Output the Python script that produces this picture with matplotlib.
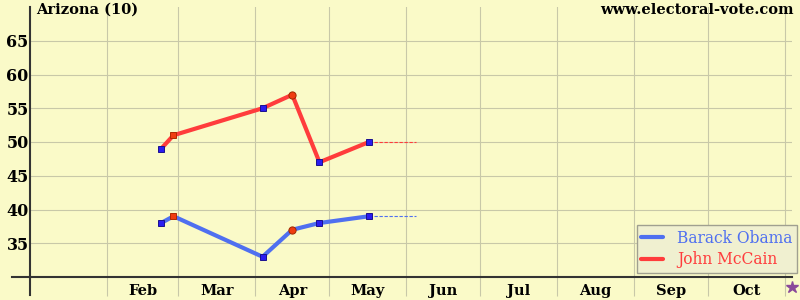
import matplotlib
matplotlib.use("Agg")
import matplotlib.pyplot as plt
import matplotlib.dates as mdates
import matplotlib.transforms as mtransforms
from datetime import datetime

# ---- data ----
poll_dates = ["2008-02-23", "2008-02-28", "2008-04-04", "2008-04-16", "2008-04-27", "2008-05-17"]
obama = [38, 39, 33, 37, 38, 39]
mccain = [49, 51, 55, 57, 47, 50]
# pollster type per poll: 'n' neutral (blue square), 'r' (red square), 'c' (red circle)
poll_kind = ["n", "r", "n", "c", "n", "n"]
projection_end = "2008-06-05"
election_day = "2008-11-04"
months = ["Feb", "Mar", "Apr", "May", "Jun", "Jul", "Aug", "Sep", "Oct"]
yticks = [35, 40, 45, 50, 55, 60, 65]
title_left = "Arizona (10)"
title_right = "www.electoral-vote.com"

# ---- styling ----
BG = "#fafac8"
GRID = "#c8c8a8"
OBAMA_C = "#4f6ff0"
MCCAIN_C = "#ff3c3c"
serif = ["DejaVu Serif"]

d = [datetime.strptime(s, "%Y-%m-%d") for s in poll_dates]
d_end = datetime.strptime(projection_end, "%Y-%m-%d")
d_elec = datetime.strptime(election_day, "%Y-%m-%d")

fig = plt.figure(figsize=(8, 3), dpi=100)
fig.patch.set_facecolor(BG)
ax = fig.add_axes([30/800, 23/300, 762/800, 270/300])
ax.set_facecolor(BG)

x0 = datetime(2008, 1, 1)
ax.set_xlim(x0, d_elec)
ax.set_ylim(30, 70)

# month boundaries as minor ticks (grid), labels mid-month as major ticks
bounds = [datetime(2008, m, 1) for m in range(2, 12)]
ax.set_xticks(bounds, minor=True)
mids = []
for i, name in enumerate(months):
    a = mdates.date2num(datetime(2008, i + 2, 1))
    b = mdates.date2num(datetime(2008, i + 3, 1))
    mids.append((a + b) / 2)
ax.set_xticks(mids)
ax.set_xticklabels(months, fontfamily=serif, fontweight="bold", fontsize=10.5)
ax.tick_params(axis="x", which="major", length=0, pad=5)
ax.tick_params(axis="x", which="minor", length=14, width=0.8, color=GRID, direction="out")
ax.grid(True, which="minor", axis="x", color=GRID, linewidth=0.8)

ax.set_yticks(yticks)
ax.set_yticklabels([str(v) for v in yticks], fontfamily=serif, fontweight="bold", fontsize=11.5)
ax.tick_params(axis="y", length=0, pad=1)
ax.grid(True, which="major", axis="y", color=GRID, linewidth=0.8)
ax.set_axisbelow(True)

for s in ["top", "right"]:
    ax.spines[s].set_visible(False)
ax.spines["left"].set_color("#333333")
ax.spines["left"].set_linewidth(1.5)
ax.spines["left"].set_bounds(30, 70)
ax.spines["bottom"].set_color("#333333")
ax.spines["bottom"].set_linewidth(1.5)

# extend the axis lines past the origin like the original
ax.plot([0, 0], [-0.065, 0], transform=ax.transAxes, color="#333333", lw=1.5, clip_on=False)
ax.plot([-0.023, 0], [0, 0], transform=ax.transAxes, color="#333333", lw=1.5, clip_on=False)

# lines
ax.plot(d, obama, color=OBAMA_C, lw=3, solid_capstyle="round", zorder=3, label="Barack Obama")
ax.plot(d, mccain, color=MCCAIN_C, lw=3, solid_capstyle="round", zorder=3, label="John McCain")
ax.plot([d[-1], d_end], [obama[-1], obama[-1]], color=OBAMA_C, lw=0.8, ls=(0, (3, 1.5)), zorder=2)
ax.plot([d[-1], d_end], [mccain[-1], mccain[-1]], color=MCCAIN_C, lw=0.8, ls=(0, (3, 1.5)), zorder=2)

style = {
    "n": dict(marker="s", mfc="#2a1cf0", mec="#1a1090", ms=4.5),
    "r": dict(marker="s", mfc="#f03c10", mec="#b02800", ms=4.5),
    "c": dict(marker="o", mfc="#f03c10", mec="#a02800", ms=5.2),
}
for xi, yo, ym, k in zip(d, obama, mccain, poll_kind):
    for y in (yo, ym):
        ax.plot([xi], [y], ls="none", mew=0.7, zorder=4, **style[k])

# election day star below axis
trans = mtransforms.blended_transform_factory(ax.transData, ax.transAxes)
ax.plot([d_elec], [-0.037], marker="*", color="#8a4a9a", ms=9, transform=trans, clip_on=False, ls="none")

# titles
fig.text(36/800, 1 - 10/300, title_left, fontfamily=serif, fontweight="bold", fontsize=10.5,
         ha="left", va="center")
fig.text(794/800, 1 - 10/300, title_right, fontfamily=serif, fontweight="bold", fontsize=10.5,
         ha="right", va="center")

# legend
leg = ax.legend(loc="lower right", bbox_to_anchor=(797/800, 27/300), bbox_transform=fig.transFigure,
                prop=dict(family=serif, size=11.2), frameon=True, fancybox=False,
                handlelength=1.4, handletextpad=0.9, borderpad=0.3, labelspacing=0.3,
                borderaxespad=0)
leg.get_frame().set_facecolor("#f0f0d0")
leg.get_frame().set_edgecolor("#a0a090")
leg.get_frame().set_alpha(1)
for t, c in zip(leg.get_texts(), [OBAMA_C, MCCAIN_C]):
    t.set_color(c)

fig.savefig("out.png", dpi=100, facecolor=BG)
